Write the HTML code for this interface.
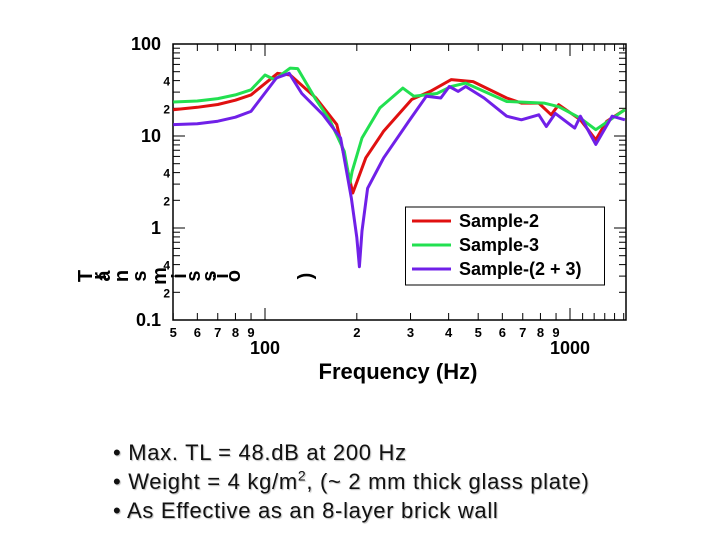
<!DOCTYPE html>
<html><head><meta charset="utf-8"><style>
html,body{margin:0;padding:0;background:#fff;}
body{width:720px;height:540px;position:relative;overflow:hidden;font-family:"Liberation Sans",Arial,sans-serif;}
svg text{font-family:"Liberation Sans",Arial,sans-serif;}
.bul{position:absolute;left:113px;font-size:22px;letter-spacing:0.7px;line-height:26px;color:#111;text-shadow:1px 1px 1px #bbb;white-space:nowrap;}
</style></head><body>
<svg id="chart" width="720" height="400" style="position:absolute;left:0;top:0"></svg>
<div class="bul" style="top:440px">• Max. TL = 48.dB at 200 Hz</div>
<div class="bul" style="top:469px">• Weight = 4 kg/m<sup style="font-size:14px;line-height:0">2</sup>, (~ 2 mm thick glass plate)</div>
<div class="bul" style="top:498px">• As Effective as an 8-layer brick wall</div>
<script>
const s2F=[50,60,70,80,90,110,121,147,172,187,194,214,245,303,348,408,481,620,693,790,868,918,1082,1215,1318,1514];
const s2V=[19.3,20.5,22,24.5,28,48,46,25.9,13.3,4.1,2.4,5.8,11.3,25,30.5,41,39,25.9,22.8,22.8,17,21.9,15,9.1,14.4,19.3];
const s3F=[50,60,70,80,90,100,107.5,121,128,147,163,182,190,193,208,238,283,308,366,408,455,620,822,918,1082,1215,1514];
const s3V=[23.4,24,25.5,28,31.8,46,41,54.7,54,24.8,15,6.8,3.1,4.1,9.5,20.2,33.2,27,29,34.5,37.6,23.7,22.8,20.8,15.6,11.7,19.3];
const s23F=[50,60,70,80,90,109,120,132,155,177,192,200,204,208,217,245,296,338,377,402,430,455,523,620,693,790,836,895,1036,1082,1215,1374,1514];
const s23V=[13.3,13.6,14.5,16,18.5,42.7,48,29,17,9.5,2.1,0.79,0.38,0.93,2.7,5.8,14.4,27,25.9,34.5,30.5,34.5,25.9,16.4,15,17,12.7,17.6,12.2,16.4,8.1,16.4,15];
const seriesNames=["Sample-2","Sample-3","Sample-(2 + 3)"];
const xMinor=[50,60,70,80,90,100,200,300,400,500,600,700,800,900,1000];
const xMinorLabels=["5","6","7","8","9","","2","3","4","5","6","7","8","9",""];
const yMajor=[0.1,1,10,100];
const yMajorLabels=["0.1","1","10","100"];

const NS="http://www.w3.org/2000/svg";
const svg=document.getElementById('chart');
const L=173,R=626,T=44,B=320;
const xs=f=>265+305*Math.log10(f/100);
const ys=v=>228-92*Math.log10(v);
function mk(tag,at,parent){const e=document.createElementNS(NS,tag);for(const k in at)e.setAttribute(k,at[k]);(parent||svg).appendChild(e);return e;}

const frame=mk('rect',{x:L,y:T,width:R-L,height:B-T,fill:'none',stroke:'#000','stroke-width':1.5});



const xt=mk('g',{stroke:'#000','stroke-width':1});


for(const f of [...xMinor,1100,1200,1300,1400,1500]){const x=xs(f);if(x>R)continue;const maj=(f===100||f===1000);const len=maj?12:7;
 mk('line',{x1:x,x2:x,y1:B,y2:B-len},xt);mk('line',{x1:x,x2:x,y1:T,y2:T+len},xt);}
xMinor.forEach((f,i)=>{if(!xMinorLabels[i])return;const t=mk('text',{x:xs(f),y:337,'font-size':13,'font-weight':'bold','text-anchor':'middle'});t.textContent=xMinorLabels[i];
 
 });
[[100,"100"],[1000,"1000"]].forEach(([f,l])=>{const t=mk('text',{x:xs(f),y:354,'font-size':18,'font-weight':'bold','text-anchor':'middle'});t.textContent=l;
 
 });
const xtitle=mk('text',{x:398,y:379,'font-size':22,'font-weight':'bold','text-anchor':'middle'});xtitle.textContent='Frequency (Hz)';



const yt=mk('g',{stroke:'#000','stroke-width':1});


for(let k=-1;k<2;k++){const d=Math.pow(10,k);for(let m=1;m<10;m++){const v=d*m;const y=ys(v);const len=m===1?12:7;
 mk('line',{x1:L,x2:L+len,y1:y,y2:y},yt);mk('line',{x1:R,x2:R-len,y1:y,y2:y},yt);
 if(m===2||m===4){const t=mk('text',{x:170,y:y+5,'font-size':12,'font-weight':'bold','text-anchor':'end',stroke:'none'});t.textContent=String(m);
  
  }}}
yMajor.forEach((v,i)=>{const t=mk('text',{x:161,y:ys(v)+6,'font-size':18,'font-weight':'bold','text-anchor':'end'});t.textContent=yMajorLabels[i];
 
 });

const yg=mk('g',{'font-size':20,'font-weight':'bold'});


const chars=[['T',92],['r',106],['a',110],['n',128],['s',146],['m',166],['i',186],['s',200],['s',216],['i',228],['o',240],[')',312]];
chars.forEach(([c,x])=>{const t=mk('text',{x:0,y:0,transform:`translate(${x},276) rotate(-90)`,'text-anchor':'middle'},yg);t.textContent=c;});

const colors=['#e01010','#22e050','#7020e8'];
[[s2F,s2V],[s3F,s3V],[s23F,s23V]].forEach(([F,V],i)=>{
 const d=F.map((f,j)=>(j?'L':'M')+xs(f).toFixed(1)+','+ys(V[j]).toFixed(1)).join('');
 const p=mk('path',{d,fill:'none',stroke:colors[i],'stroke-width':3,'stroke-linejoin':'round'});
 
 
});

const lg=mk('g',{});


mk('rect',{x:405.5,y:207,width:199,height:78,fill:'#fff',stroke:'#000','stroke-width':1},lg);
seriesNames.forEach((n,i)=>{const y=221+24*i;
 mk('line',{x1:412,x2:451,y1:y,y2:y,stroke:colors[i],'stroke-width':3},lg);
 const t=mk('text',{x:459,y:y+6,'font-size':18,'font-weight':'bold'},lg);t.textContent=n;
 
 });
</script>
</body></html>
